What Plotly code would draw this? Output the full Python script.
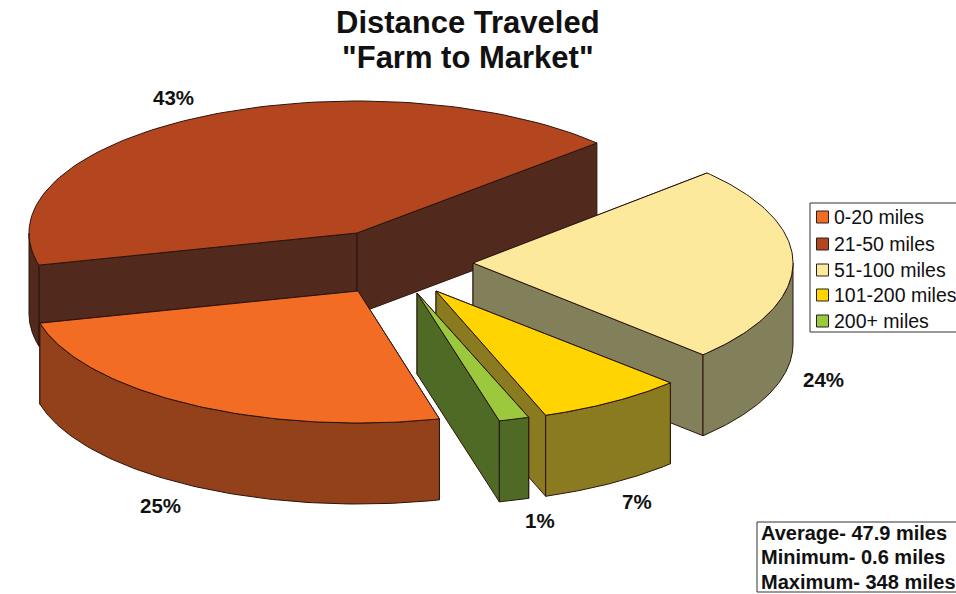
import numpy as np
import plotly.graph_objects as go

# Data (in the clockwise order the slices are laid out, starting at the yellow slice)
title_lines = ["Distance Traveled", '"Farm to Market"']
categories = ["51-100 miles", "101-200 miles", "200+ miles", "0-20 miles", "21-50 miles"]
values = [24.49, 7.4, 1.49, 25.4, 42.51]
legend_order = ["0-20 miles", "21-50 miles", "51-100 miles", "101-200 miles", "200+ miles"]
top_colors = {"0-20 miles": "#f36c24", "21-50 miles": "#b4461f", "51-100 miles": "#fce99c",
              "101-200 miles": "#ffd400", "200+ miles": "#9bc83c"}
wall_colors = {"0-20 miles": "#92411a", "21-50 miles": "#52291d", "51-100 miles": "#82805a",
               "101-200 miles": "#8b7b20", "200+ miles": "#4f6a24"}
stats = ["Average- 47.9 miles", "Minimum- 0.6 miles", "Maximum- 348 miles"]

# Layout of the exploded 3-D pie, in page pixels
apex = {"0-20 miles": (358, 291), "21-50 miles": (357, 233), "51-100 miles": (473, 263),
        "101-200 miles": (436, 291), "200+ miles": (417, 293)}
radius_x = {"0-20 miles": 328.0, "21-50 miles": 328.0, "51-100 miles": 320.0,
            "101-200 miles": 326.0, "200+ miles": 332.0}
label_pos = {"0-20 miles": (160, 505), "21-50 miles": (173, 97), "51-100 miles": (823, 379),
             "101-200 miles": (637, 501), "200+ miles": (540, 520)}
draw_order = ["21-50 miles", "51-100 miles", "0-20 miles", "101-200 miles", "200+ miles"]
RY, DEPTH, START = 132.0, 81.0, -43.0
EDGE = "#2a140c"

spans = np.array(values) / sum(values) * 360.0
ends = START + np.cumsum(spans)
starts = ends - spans
angles = {c: (s, e) for c, s, e in zip(categories, starts, ends)}

fig = go.Figure()


def poly(xs, ys, color):
    fig.add_trace(go.Scatter(x=list(xs), y=list(ys), mode="lines", fill="toself", fillcolor=color,
                             line=dict(color=EDGE, width=1), hoverinfo="skip", showlegend=False))


def arc(c, a, b, drop=0.0):
    t = np.radians(np.linspace(a, b, 90))
    return apex[c][0] + radius_x[c] * np.cos(t), apex[c][1] + RY * np.sin(t) + drop


for c in draw_order:
    a, b = angles[c]
    cx, cy = apex[c]
    wall = wall_colors[c]
    for ang in (a, b):
        ex = cx + radius_x[c] * np.cos(np.radians(ang))
        ey = cy + RY * np.sin(np.radians(ang))
        poly([cx, ex, ex, cx, cx], [cy, ey, ey + DEPTH, cy + DEPTH, cy], wall)
    # front part of the rim: the angle ranges where sin > 0
    for lo, hi in ((0, 180), (360, 540)):
        f0, f1 = max(a, lo), min(b, hi)
        if f1 > f0:
            x0, y0 = arc(c, f0, f1)
            x1, y1 = arc(c, f1, f0, DEPTH)
            poly(np.r_[x0, x1, x0[0]], np.r_[y0, y1, y0[0]], wall)
    ax, ay = arc(c, a, b)
    poly(np.r_[cx, ax, cx], np.r_[cy, ay, cy], top_colors[c])

annotations = []
# Title
for s, y in zip(title_lines, [22, 57]):
    annotations.append(dict(x=468, y=y, text=s, showarrow=False, xanchor="center", yanchor="middle",
                            font=dict(family="Liberation Sans", size=31, color="#111111", weight="bold")))
# Value labels
for c, v in zip(categories, values):
    lx, ly = label_pos[c]
    annotations.append(dict(x=lx, y=ly, text=f"{v:.0f}%", showarrow=False, xanchor="center", yanchor="middle",
                            font=dict(family="Liberation Sans", size=20.5, color="#111111", weight="bold")))

# Legend
shapes = [dict(type="rect", x0=810, x1=962, y0=203, y1=332, line=dict(color="#333333", width=1),
               fillcolor="#ffffff", layer="below"),
          dict(type="rect", x0=757, x1=962, y0=522, y1=592, line=dict(color="#333333", width=1),
               fillcolor="#ffffff", layer="below")]
legend_y = [217, 244, 270, 295, 321]
fig.add_trace(go.Scatter(x=[822.5] * 5, y=legend_y, mode="markers", hoverinfo="skip", showlegend=False,
                         marker=dict(symbol="square", size=12, color=[top_colors[c] for c in legend_order],
                                     line=dict(color="#222222", width=1))))
for c, y in zip(legend_order, legend_y):
    annotations.append(dict(x=832, y=y, text=c, showarrow=False, xanchor="left", yanchor="middle",
                            font=dict(family="Liberation Sans", size=19.5, color="#111111")))
for s, y in zip(stats, [533, 557, 582]):
    annotations.append(dict(x=759, y=y, text=s, showarrow=False, xanchor="left", yanchor="middle",
                            font=dict(family="Liberation Sans", size=20, color="#111111", weight="bold")))

fig.update_layout(
    width=956, height=594, margin=dict(l=0, r=0, t=0, b=0), paper_bgcolor="white", plot_bgcolor="white",
    showlegend=False,
    xaxis=dict(range=[0, 956], visible=False, fixedrange=True),
    yaxis=dict(range=[594, 0], visible=False, fixedrange=True),
    shapes=shapes, annotations=annotations,
)
fig.write_html("out.html", config={"displayModeBar": False},
               post_script="document.body.style.margin='0';document.body.style.overflow='hidden';")
